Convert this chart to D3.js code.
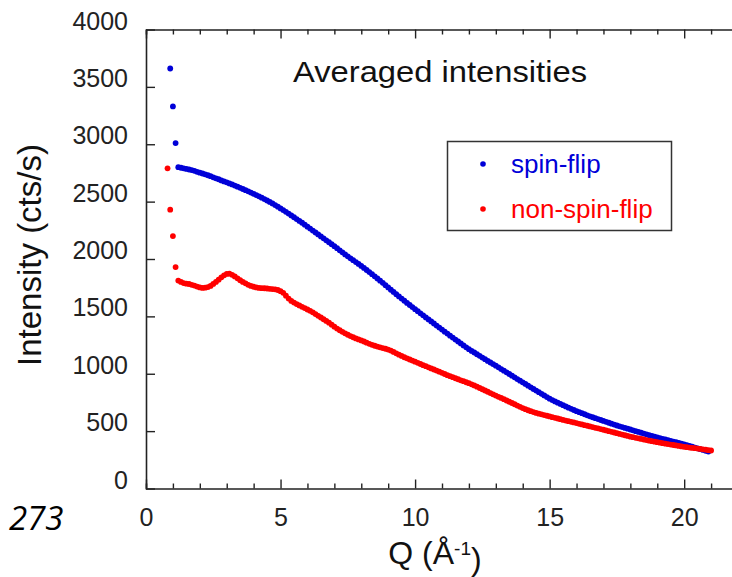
<!DOCTYPE html>
<html>
<head>
<meta charset="utf-8">
<script src="https://cdn.jsdelivr.net/npm/d3@7"></script>
<style>
  body { margin: 0; background: #fff; }
  text { font-family: "Liberation Sans", Arial, sans-serif; }
</style>
</head>
<body>
<script>
// Q values (1/Angstrom), same grid for both series
const q = [
  0.8, 0.9, 1.0, 1.1, 1.2, 1.3, 1.4, 1.5, 1.6, 1.7, 1.8, 1.9,
  2.0, 2.1, 2.2, 2.3, 2.4, 2.5, 2.6, 2.7, 2.8, 2.9,
  3.0, 3.1, 3.2, 3.3, 3.4, 3.5, 3.6, 3.7, 3.8, 3.9,
  4.0, 4.1, 4.2, 4.3, 4.4, 4.5, 4.6, 4.7, 4.8, 4.9,
  5.0, 5.1, 5.2, 5.3, 5.4, 5.5, 5.6, 5.7, 5.8, 5.9,
  6.0, 6.1, 6.2, 6.3, 6.4, 6.5, 6.6, 6.7, 6.8, 6.9,
  7.0, 7.1, 7.2, 7.3, 7.4, 7.5, 7.6, 7.7, 7.8, 7.9,
  8.0, 8.1, 8.2, 8.3, 8.4, 8.5, 8.6, 8.7, 8.8, 8.9,
  9.0, 9.1, 9.2, 9.3, 9.4, 9.5, 9.6, 9.7, 9.8, 9.9,
  10.0, 10.1, 10.2, 10.3, 10.4, 10.5, 10.6, 10.7, 10.8, 10.9,
  11.0, 11.1, 11.2, 11.3, 11.4, 11.5, 11.6, 11.7, 11.8, 11.9,
  12.0, 12.1, 12.2, 12.3, 12.4, 12.5, 12.6, 12.7, 12.8, 12.9,
  13.0, 13.1, 13.2, 13.3, 13.4, 13.5, 13.6, 13.7, 13.8, 13.9,
  14.0, 14.1, 14.2, 14.3, 14.4, 14.5, 14.6, 14.7, 14.8, 14.9,
  15.0, 15.1, 15.2, 15.3, 15.4, 15.5, 15.6, 15.7, 15.8, 15.9,
  16.0, 16.1, 16.2, 16.3, 16.4, 16.5, 16.6, 16.7, 16.8, 16.9,
  17.0, 17.1, 17.2, 17.3, 17.4, 17.5, 17.6, 17.7, 17.8, 17.9,
  18.0, 18.1, 18.2, 18.3, 18.4, 18.5, 18.6, 18.7, 18.8, 18.9,
  19.0, 19.1, 19.2, 19.3, 19.4, 19.5, 19.6, 19.7, 19.8, 19.9,
  20.0, 20.1, 20.2, 20.3, 20.4, 20.5, 20.6, 20.7, 20.8, 20.9,
  21.0
];

// spin-flip intensity (cts/s), null = no point
const spinFlip = [
  null, 3660, 3330, 3010, 2800, 2795, 2790, 2785, 2780, 2775, 2768, 2760,
  2752, 2745, 2738, 2730, 2722, 2712, 2703, 2695, 2685, 2676,
  2668, 2659, 2650, 2640, 2630, 2620, 2610, 2600, 2590, 2579,
  2568, 2557, 2546, 2534, 2522, 2510, 2497, 2484, 2470, 2456,
  2441, 2426, 2411, 2396, 2380, 2364, 2348, 2332, 2316, 2299,
  2282, 2265, 2248, 2231, 2214, 2197, 2180, 2163, 2146, 2129,
  2112, 2094, 2076, 2058, 2040, 2023, 2006, 1990, 1973, 1957,
  1940, 1922, 1904, 1886, 1868, 1849, 1830, 1811, 1792, 1772,
  1752, 1732, 1713, 1693, 1674, 1655, 1636, 1617, 1599, 1581,
  1563, 1545, 1527, 1509, 1491, 1473, 1456, 1438, 1420, 1402,
  1385, 1367, 1350, 1332, 1315, 1298, 1281, 1264, 1247, 1230,
  1214, 1199, 1185, 1170, 1156, 1141, 1127, 1112, 1098, 1084,
  1070, 1056, 1041, 1027, 1012, 998, 983, 969, 954, 940,
  925, 911, 896, 882, 867, 853, 839, 825, 811, 797,
  783, 771, 759, 748, 737, 726, 715, 704, 694, 684,
  674, 665, 656, 647, 638, 629, 621, 613, 605, 597,
  589, 581, 573, 565, 557, 549, 542, 535, 528, 521,
  514, 507, 500, 493, 486, 479, 472, 465, 458, 451,
  445, 439, 433, 427, 421, 415, 409, 403, 397, 391,
  385, 378, 371, 364, 357, 350, 343, 336, 329, 322,
  null
];

// non-spin-flip intensity (cts/s)
const nonSpinFlip = [
  2790, 2430, 2200, 1930, 1812, 1800, 1790, 1785, 1782, 1775, 1768, 1760,
  1752, 1748, 1750, 1755, 1765, 1783, 1800, 1820, 1840, 1858,
  1870, 1872, 1862, 1848, 1832, 1815, 1800, 1788, 1775, 1765,
  1758, 1752, 1748, 1746, 1745, 1743, 1740, 1738, 1736, 1730,
  1720, 1705, 1680, 1655, 1635, 1620, 1607, 1595, 1583, 1572,
  1560, 1548, 1535, 1520, 1505, 1490, 1475, 1460, 1445, 1428,
  1410, 1394, 1379, 1365, 1352, 1340, 1328, 1318, 1308, 1299,
  1290, 1281, 1271, 1261, 1252, 1244, 1237, 1230, 1224, 1218,
  1211, 1202, 1190, 1178, 1166, 1155, 1144, 1134, 1124, 1115,
  1105, 1095, 1085, 1075, 1066, 1056, 1046, 1037, 1028, 1018,
  1008, 998, 988, 979, 970, 961, 952, 943, 935, 926,
  918, 908, 898, 887, 876, 865, 854, 843, 832, 821,
  810, 799, 789, 778, 767, 756, 745, 734, 723, 712,
  701, 691, 682, 674, 666, 659, 652, 646, 640, 634,
  628, 622, 616, 610, 604, 598, 592, 587, 581, 576,
  570, 564, 558, 552, 547, 541, 535, 529, 524, 518,
  512, 506, 500, 494, 488, 482, 476, 470, 464, 458,
  452, 447, 442, 437, 432, 427, 422, 417, 412, 408,
  404, 399, 395, 391, 387, 383, 379, 375, 371, 367,
  363, 360, 357, 354, 351, 348, 345, 341, 338, 334,
  331
];

const xMajor = [0, 5, 10, 15, 20];
const xMinor = [1, 2, 3, 4, 6, 7, 8, 9, 11, 12, 13, 14, 16, 17, 18, 19, 21, 22];
const yTicks = [0, 500, 1000, 1500, 2000, 2500, 3000, 3500, 4000];

const seriesNames = ["spin-flip", "non-spin-flip"];
const seriesColors = ["#0000d8", "#ff0000"];

const width = 732, height = 577;
const margin = {top: 29.5, left: 146, bottom: 88.5};

const x = d3.scaleLinear().domain([0, 22]).range([margin.left, 738]);
const y = d3.scaleLinear().domain([0, 4000]).range([height - margin.bottom, margin.top]);

const svg = d3.select("body").append("svg")
    .attr("width", width)
    .attr("height", height);

// data points (spin-flip first, non-spin-flip on top)
[spinFlip, nonSpinFlip].forEach(function (vals, k) {
    const pts = q.map(function (d, i) { return [d, vals[i]]; })
        .filter(function (d) { return d[1] != null; });
    svg.append("g")
        .attr("fill", seriesColors[k])
        .selectAll("circle")
        .data(pts)
        .join("circle")
        .attr("cx", function (d) { return x(d[0]); })
        .attr("cy", function (d) { return y(d[1]); })
        .attr("r", 2.9);
});

function styleAxis(g) {
    g.select(".domain").attr("stroke", "#222").attr("stroke-width", 1.6);
    g.selectAll(".tick line").attr("stroke", "#222").attr("stroke-width", 1.4);
    g.selectAll("text").attr("fill", "#222").style("font-size", "25px")
        .style("font-family", "'Liberation Sans', Arial, sans-serif");
}

const yBase = y(0);

// bottom axis, inward ticks
svg.append("g")
    .attr("transform", "translate(0," + yBase + ")")
    .call(d3.axisBottom(x).tickValues(xMinor).tickSize(-5).tickFormat(""))
    .call(styleAxis);
svg.append("g")
    .attr("transform", "translate(0," + yBase + ")")
    .call(d3.axisBottom(x).tickValues(xMajor).tickSize(-9).tickPadding(20).tickFormat(d3.format("d")))
    .call(styleAxis)
    .call(function (g) { g.select(".domain").remove(); });

// top frame
svg.append("g")
    .attr("transform", "translate(0," + y(4000) + ")")
    .call(d3.axisTop(x).tickValues(xMinor).tickSize(-5).tickFormat(""))
    .call(styleAxis);
svg.append("g")
    .attr("transform", "translate(0," + y(4000) + ")")
    .call(d3.axisTop(x).tickValues(xMajor).tickSize(-9).tickFormat(""))
    .call(styleAxis)
    .call(function (g) { g.select(".domain").remove(); });

// left axis
svg.append("g")
    .attr("transform", "translate(" + margin.left + ",0)")
    .call(d3.axisLeft(y).tickValues(yTicks).tickSize(-9).tickPadding(18).tickSizeOuter(0).tickFormat(d3.format("d")))
    .call(styleAxis)
    .call(function (g) { g.selectAll("text").attr("dy", "-0.02em"); });

// axis titles
svg.append("text")
    .attr("transform", "translate(41," + (y(2000) - 4) + ") rotate(-90)")
    .attr("text-anchor", "middle")
    .style("font-size", "33px")
    .attr("fill", "#111")
    .text("Intensity (cts/s)");

const xt = svg.append("text")
    .attr("x", 435)
    .attr("y", 564)
    .attr("text-anchor", "middle")
    .style("font-size", "32px")
    .attr("fill", "#111");
xt.append("tspan").text("Q (Å");
xt.append("tspan").attr("dy", "-0.45em").style("font-size", "19px").text("-1");
xt.append("tspan").attr("dy", "0.45em").text(")");

// plot title
svg.append("text")
    .attr("x", 293)
    .attr("y", 82)
    .attr("textLength", 294)
    .attr("lengthAdjust", "spacingAndGlyphs")
    .style("font-size", "29px")
    .attr("fill", "#111")
    .text("Averaged intensities");

// legend
const legend = svg.append("g");
legend.append("rect")
    .attr("x", 447.5).attr("y", 141.5)
    .attr("width", 224).attr("height", 89)
    .attr("fill", "#fff")
    .attr("stroke", "#333")
    .attr("stroke-width", 1.5);
seriesNames.forEach(function (name, i) {
    legend.append("circle")
        .attr("cx", 483).attr("cy", 164 + i * 45)
        .attr("r", 2.8)
        .attr("fill", seriesColors[i]);
    legend.append("text")
        .attr("x", 511).attr("y", 164 + i * 45)
        .attr("dy", "0.35em")
        .style("font-size", "26px")
        .attr("fill", seriesColors[i])
        .text(name);
});

// page number in the corner
svg.append("text")
    .attr("x", 9).attr("y", 530)
    .style("font-size", "33px")
    .style("font-style", "italic")
    .style("font-family", "'Open Sans', 'Noto Sans', sans-serif")
    .attr("fill", "#000")
    .text("273");
</script>
</body>
</html>
